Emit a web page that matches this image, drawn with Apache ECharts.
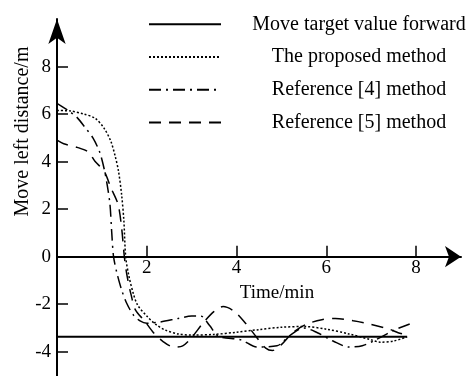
<!DOCTYPE html>
<html>
<head>
<meta charset="utf-8">
<script src="https://cdn.jsdelivr.net/npm/echarts@6/dist/echarts.min.js"></script>
<style>
html,body{margin:0;padding:0;background:#fff;}
#chart{width:468px;height:376px;}
</style>
</head>
<body>
<div id="chart"></div>
<script>
// ---- data ----
var seriesNames = ['Move target value forward', 'The proposed method', 'Reference [4] method', 'Reference [5] method'];
var xTicks = [2, 4, 6, 8];
var yTicks = [-4, -2, 0, 2, 4, 6, 8];

var targetTime = [0, 7.8];
var targetValue = [-3.37, -3.37];

var proposedTime = [0, 0.3, 0.6, 0.85, 1.05, 1.2, 1.3, 1.37, 1.44, 1.49, 1.53, 1.6, 1.7, 1.8, 2.0, 2.2, 2.4, 2.7, 3.0, 3.5, 4.0, 4.5, 5.0, 5.5, 6.0, 6.5, 7.0, 7.2, 7.5, 7.8];
var proposedValue = [6.15, 6.13, 6.0, 5.82, 5.4, 4.85, 4.2, 3.6, 2.6, 1.5, 0, -0.8, -1.55, -2.05, -2.5, -2.85, -3.08, -3.25, -3.3, -3.27, -3.18, -3.07, -2.97, -2.94, -3.05, -3.25, -3.5, -3.6, -3.55, -3.37];

var ref4Time = [0, 0.25, 0.45, 0.62, 0.8, 0.95, 1.05, 1.12, 1.18, 1.22, 1.26, 1.33, 1.44, 1.55, 1.7, 1.85, 2.0, 2.3, 2.7, 3.0, 3.2, 3.4, 3.6, 4.1, 4.45, 4.9, 5.2, 5.5, 5.8, 6.15, 6.5, 6.8, 7.1, 7.5, 7.9];
var ref4Value = [6.45, 6.15, 5.85, 5.45, 5.0, 4.4, 3.7, 3.0, 2.2, 1.0, 0, -0.65, -1.4, -1.95, -2.45, -2.7, -2.8, -2.75, -2.6, -2.5, -2.5, -2.9, -3.35, -3.5, -3.8, -3.75, -3.3, -3.0, -3.2, -3.55, -3.8, -3.75, -3.5, -3.1, -2.8];

var ref5Time = [0, 0.15, 0.45, 0.7, 0.85, 1.05, 1.2, 1.36, 1.44, 1.5, 1.56, 1.65, 1.75, 1.95, 2.15, 2.35, 2.6, 2.8, 3.0, 3.25, 3.5, 3.7, 3.95, 4.2, 4.45, 4.65, 4.8, 5.0, 5.25, 5.55, 5.9, 6.2, 6.6, 7.0, 7.4, 7.6, 7.8];
var ref5Value = [4.9, 4.75, 4.6, 4.4, 4.0, 3.6, 2.9, 2.2, 1.2, 0, -0.8, -1.6, -2.25, -2.7, -3.2, -3.55, -3.8, -3.75, -3.4, -2.8, -2.3, -2.1, -2.3, -2.8, -3.4, -3.85, -3.95, -3.7, -3.2, -2.85, -2.65, -2.6, -2.7, -2.85, -3.05, -3.2, -3.3];

function pairs(xs, ys) { return xs.map(function (x, i) { return [x, ys[i]]; }); }

var FONT = '"Liberation Serif", "Times New Roman", serif';
var chart = echarts.init(document.getElementById('chart'), null, { renderer: 'canvas' });

function lineSeries(name, data, type, width) {
  return {
    name: name, type: 'line', data: data, symbol: 'none', smooth: 0.3,
    xAxisIndex: 0, yAxisIndex: 0,
    color: '#000',
    lineStyle: { color: '#000', width: width, type: type, cap: 'butt' },
    itemStyle: { color: '#000' },
    z: 3
  };
}

var GRID_TOP = 19, GRID_H = 356.5, Y_MIN = -5, Y_MAX = 10, X_MIN = 0, X_MAX = 9;
var zeroOffset = -(GRID_H * (0 - Y_MIN) / (Y_MAX - Y_MIN));

chart.setOption({
  animation: false,
  backgroundColor: '#fff',
  grid: { left: 57, top: GRID_TOP, width: 404, height: GRID_H, containLabel: false, outerBoundsMode: 'none' },
  legend: {
    orient: 'vertical', left: 148, top: 14.3, padding: 0,
    itemWidth: 72, itemHeight: 20, itemGap: 12.7,
    data: seriesNames,
    formatter: '{a|{name}}',
    itemStyle: { opacity: 0 },
    textStyle: {
      color: '#000', fontFamily: FONT, fontSize: 20, lineHeight: 20,
      rich: { a: { width: 266, align: 'center', fontFamily: FONT, fontSize: 20, color: '#000', lineHeight: 20 } }
    },
    lineStyle: { width: 2 }
  },
  xAxis: [{
    type: 'value', min: X_MIN, max: X_MAX,
    axisLine: { onZero: true, symbol: ['none', 'arrow'], symbolSize: [16, 16], lineStyle: { color: '#000', width: 2 } },
    axisTick: { inside: true, length: 11, customValues: xTicks, lineStyle: { color: '#000', width: 1.5 } },
    axisLabel: { show: false },
    splitLine: { show: false }
  }, {
    type: 'value', min: X_MIN, max: X_MAX, position: 'bottom',
    offset: zeroOffset,
    axisLine: { show: false, onZero: false },
    axisTick: { show: false },
    axisLabel: { customValues: xTicks, margin: 2, color: '#000', fontFamily: FONT, fontSize: 19 },
    splitLine: { show: false }
  }],
  yAxis: {
    type: 'value', min: Y_MIN, max: Y_MAX,
    axisLine: { onZero: false, symbol: ['none', 'arrow'], symbolSize: [13, 25], lineStyle: { color: '#000', width: 2 } },
    axisTick: { inside: true, length: 11, customValues: yTicks, lineStyle: { color: '#000', width: 1.5 } },
    axisLabel: { customValues: yTicks, margin: 6, color: '#000', fontFamily: FONT, fontSize: 19 },
    splitLine: { show: false }
  },
  graphic: [
    { type: 'text', x: 277, y: 293, style: { text: 'Time/min', fill: '#000', font: '19px ' + FONT, textAlign: 'center', textVerticalAlign: 'middle' } },
    { type: 'text', x: 23, y: 131.5, rotation: Math.PI / 2, style: { text: 'Move left distance/m', fill: '#000', font: '20px ' + FONT, textAlign: 'center', textVerticalAlign: 'middle' } }
  ],
  series: [
    lineSeries(seriesNames[0], pairs(targetTime, targetValue), 'solid', 2),
    lineSeries(seriesNames[1], pairs(proposedTime, proposedValue), [2, 2], 1.5),
    lineSeries(seriesNames[2], pairs(ref4Time, ref4Value), [12, 5, 2, 5], 1.5),
    lineSeries(seriesNames[3], pairs(ref5Time, ref5Value), [12, 8], 1.5)
  ]
});
</script>
</body>
</html>
